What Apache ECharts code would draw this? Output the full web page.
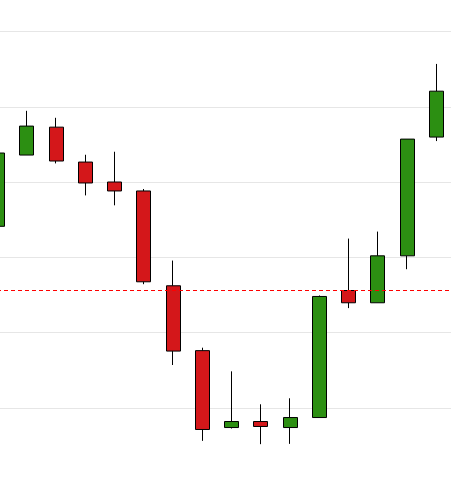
<!DOCTYPE html>
<html>
<head>
<meta charset="utf-8">
<script src="https://cdn.jsdelivr.net/npm/echarts@6/dist/echarts.min.js"></script>
<style>
  html, body { margin: 0; padding: 0; background: #ffffff; overflow: hidden; width: 452px; height: 483px; }
  #wrap { position: relative; width: 452px; height: 483px; overflow: hidden; }
  #chart { position: absolute; left: -17px; top: 0; width: 469px; height: 483px; }
</style>
</head>
<body>
<div id="wrap"><div id="chart"></div></div>
<script>
// Categories (x-axis slots)
var categories = ['1','2','3','4','5','6','7','8','9','10','11','12','13','14','15','16'];
// OHLC values
var openValues  = [54.11, 63.58, 67.29, 62.65, 60.00, 58.81, 46.21, 37.59, 27.37, 28.17, 27.37, 28.70, 45.58, 43.95, 50.19, 65.97];
var closeValues = [63.85, 67.43, 62.79, 59.87, 58.81, 46.74, 37.53, 27.11, 28.17, 27.51, 28.70, 44.79, 43.95, 50.19, 65.70, 72.07];
var lowValues   = [54.11, 63.58, 62.47, 58.22, 56.90, 46.42, 35.68, 25.60, 27.24, 25.16, 25.20, 28.70, 43.24, 43.95, 48.41, 65.44];
var highValues  = [63.85, 69.46, 68.53, 63.62, 64.02, 59.07, 49.56, 37.98, 34.84, 30.46, 31.26, 44.92, 52.48, 53.41, 65.70, 75.69];
// Reference line level
var markLevel = 45.65;
// Y axis ticks
var yMin = 20, yMax = 80, yInterval = 10;

var candleData = categories.map(function (c, i) {
  return [openValues[i], closeValues[i], lowValues[i], highValues[i]];
});

var chart = echarts.init(document.getElementById('chart'), null, { renderer: 'canvas' });
chart.setOption({
  animation: false,
  backgroundColor: '#ffffff',
  grid: { left: 0, right: 1, top: 31.5, bottom: -1, containLabel: false },
  xAxis: {
    type: 'category',
    data: categories,
    boundaryGap: true,
    axisLine: { show: false },
    axisTick: { show: false },
    axisLabel: { show: false },
    splitLine: { show: false }
  },
  yAxis: {
    type: 'value',
    min: yMin,
    max: yMax,
    interval: yInterval,
    axisLine: { show: false },
    axisTick: { show: false },
    axisLabel: { show: false },
    splitLine: { show: true, lineStyle: { color: '#e6e6e6', width: 1 } }
  },
  series: [{
    type: 'candlestick',
    data: candleData,
    itemStyle: {
      color: '#2c8f12',
      color0: '#d4171a',
      borderColor: '#000000',
      borderColor0: '#000000',
      borderWidth: 1
    },
    markLine: {
      silent: true,
      symbol: ['none', 'none'],
      label: { show: false },
      lineStyle: { color: '#ff0000', type: [4, 3], width: 1 },
      data: [{ yAxis: markLevel }]
    }
  }]
});
</script>
</body>
</html>
